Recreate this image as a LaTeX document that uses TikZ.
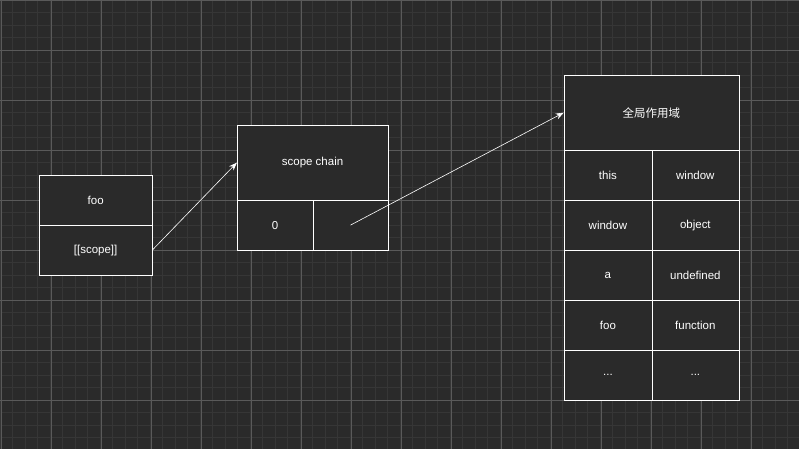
\documentclass[tikz,border=0pt]{standalone}
\usepackage{fontspec}
\setmainfont{Liberation Sans}
\newfontfamily\cjk{Noto Sans CJK SC}
\usetikzlibrary{arrows.meta}
\definecolor{canvas}{HTML}{2A2A2A}
\definecolor{minorline}{HTML}{363636}
\definecolor{majorline}{HTML}{5A5A5A}
\newcommand{\moredots}{...}
\begin{document}
\begin{tikzpicture}[
            x = 1pt, y = -1pt,
            > = {Stealth[length=8pt,width=6pt]}, % arrow head style
            cell/.style = {draw = white, fill = canvas, text = white,
                inner sep = 0pt, font = \fontsize{11.5}{13}\selectfont},
            link/.style = {->, draw = white, semithick}
        ]

        % background and grid
        \fill[canvas] (0,0) rectangle (799,449);
        \foreach \x in {0,12.5,...,799} \draw[minorline] (\x,0) -- (\x,449);
        \foreach \y in {0,12.5,...,449} \draw[minorline] (0,\y) -- (799,\y);
        \foreach \x in {1,51,...,799} \draw[majorline] (\x,0) -- (\x,449);
        \foreach \y in {0,50,...,449} \draw[majorline] (0,\y) -- (799,\y);
        \useasboundingbox (0,0) rectangle (799,449);

        % foo
        \node[cell, minimum width=113pt, minimum height=50pt] (foo) at (95.5,200) {foo};
        \node[cell, minimum width=113pt, minimum height=50pt] (scope) at (95.5,250) {[[scope]]};

        % scope chain
        \node[cell, minimum width=151pt, minimum height=75pt] (chain) at (312.5,162.5) {scope chain};
        \node[cell, minimum width=76pt, minimum height=50pt] (zero) at (275,225) {0};
        \node[cell, minimum width=75pt, minimum height=50pt] (ptr) at (350.5,225) {};

        % global scope
        \node[cell, minimum width=175pt, minimum height=75pt] (global) at (651.5,112.5) {\cjk 全局作用域};
        \foreach \k/\v [count=\i] in {this/window, window/object, a/undefined, foo/function, \moredots/\moredots} {
            \node[cell, minimum width=88pt, minimum height=50pt] (key\i) at (608,125+50*\i) {\k};
            \node[cell, minimum width=87pt, minimum height=50pt] (val\i) at (695.5,125+50*\i) {\v};
        }

        \draw[link] (scope.east) -- (chain.west);
        \draw[link] (ptr.center) -- (global.west);
\end{tikzpicture}
\end{document}
